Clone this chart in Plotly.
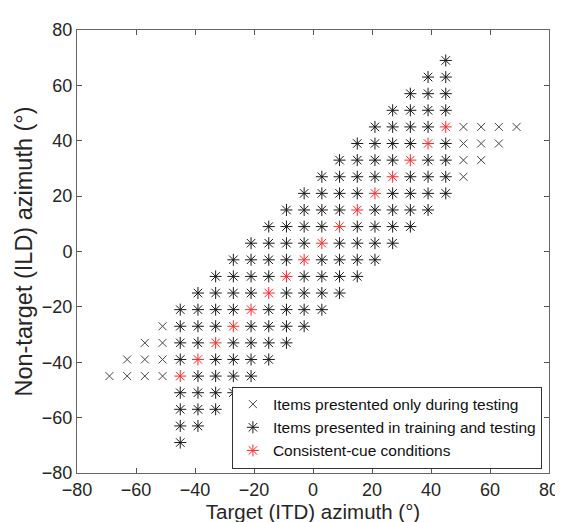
import plotly.graph_objects as go

# target (ITD) azimuth -> non-target (ILD) azimuths, items presented in training and testing
train_cols = {
    -45: [-69, -63, -57, -51, -39, -33, -27, -21],
    -39: [-63, -57, -51, -45, -33, -27, -21, -15],
    -33: [-57, -51, -45, -39, -27, -21, -15, -9],
    -27: [-51, -45, -39, -33, -21, -15, -9, -3],
    -21: [-45, -39, -33, -27, -15, -9, -3, 3],
    -15: [-39, -33, -27, -21, -9, -3, 3, 9],
    -9: [-33, -27, -21, -15, -3, 3, 9, 15],
    -3: [-27, -21, -15, -9, 3, 9, 15, 21],
    3: [-21, -15, -9, -3, 9, 15, 21, 27],
    9: [-15, -9, -3, 3, 15, 21, 27, 33],
    15: [-9, -3, 3, 9, 21, 27, 33, 39],
    21: [-3, 3, 9, 15, 27, 33, 39, 45],
    27: [3, 9, 15, 21, 33, 39, 45, 51],
    33: [9, 15, 21, 27, 39, 45, 51, 57],
    39: [15, 21, 27, 33, 45, 51, 57, 63],
    45: [21, 27, 33, 39, 51, 57, 63, 69],
}

# items presented only during testing
test_cols = {
    -69: [-45],
    -63: [-45, -39],
    -57: [-45, -39, -33],
    -51: [-45, -39, -33, -27],
    51: [27, 33, 39, 45],
    57: [33, 39, 45],
    63: [39, 45],
    69: [45],
}

# consistent-cue conditions
cons_x = [-45, -39, -33, -27, -21, -15, -9, -3, 3, 9, 15, 21, 27, 33, 39, 45]
cons_y = [-45, -39, -33, -27, -21, -15, -9, -3, 3, 9, 15, 21, 27, 33, 39, 45]

ticks = [-80, -60, -40, -20, 0, 20, 40, 60, 80]

FONT = "Liberation Sans, Arial"


def flatten(cols):
    xs, ys = [], []
    for k, v in cols.items():
        for y in v:
            xs.append(k)
            ys.append(y)
    return xs, ys


tx, ty = flatten(test_cols)
sx, sy = flatten(train_cols)

fig = go.Figure()
fig.add_trace(go.Scatter(
    x=tx, y=ty, mode="markers", name="Items prestented only during testing",
    marker=dict(symbol="x-thin-open", size=8, color="#444444", line=dict(width=1, color="#444444")),
))
fig.add_trace(go.Scatter(
    x=sx, y=sy, mode="markers", name="Items presented in training and testing",
    marker=dict(symbol="asterisk-open", size=10, color="#1a1a1a", line=dict(width=1, color="#1a1a1a")),
))
fig.add_trace(go.Scatter(
    x=cons_x, y=cons_y, mode="markers", name="Consistent-cue conditions",
    marker=dict(symbol="asterisk-open", size=10, color="#ff2a2a", line=dict(width=1, color="#ff2a2a")),
))

axis_common = dict(
    range=[-80, 80], tickvals=ticks, ticks="inside", ticklen=5, tickcolor="#555",
    showline=True, linecolor="#666", linewidth=1, mirror="allticks",
    showgrid=False, zeroline=False,
    tickfont=dict(family=FONT, size=18, color="#262626"),
)

fig.update_layout(
    width=563, height=522,
    margin=dict(l=69, r=14, t=18, b=57),
    paper_bgcolor="white", plot_bgcolor="white",
    xaxis=dict(axis_common, title=dict(text="Target (ITD) azimuth (°)", standoff=0,
               font=dict(family=FONT, size=20.5, color="#262626"))),
    yaxis=dict(axis_common, title=dict(text="Non-target (ILD) azimuth (°)", standoff=2,
               font=dict(family=FONT, size=23.5, color="#262626"))),
    legend=dict(x=0.985, y=0.01, xanchor="right", yanchor="bottom",
                bgcolor="white", bordercolor="#333", borderwidth=1,
                font=dict(family=FONT, size=15.5, color="#111"),
                tracegroupgap=0, itemwidth=30),
    showlegend=True,
)

fig.write_html("out.html")
